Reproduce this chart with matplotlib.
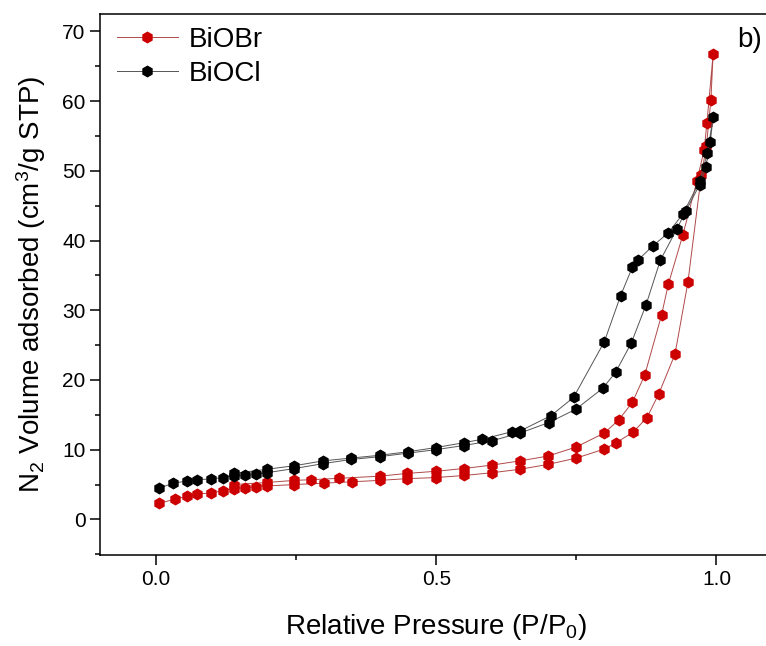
import matplotlib
matplotlib.use('Agg')
import matplotlib.pyplot as plt
from matplotlib.ticker import MultipleLocator

plt.rcParams['font.family'] = ['Liberation Sans', 'DejaVu Sans']
plt.rcParams['mathtext.default'] = 'regular'

# BiOBr: adsorption branch followed by desorption branch
biobr_p = [0.006, 0.033, 0.055, 0.074, 0.099, 0.119, 0.139, 0.159, 0.179, 0.198,
           0.247, 0.299, 0.350, 0.399, 0.448, 0.499, 0.549, 0.600, 0.650, 0.700,
           0.750, 0.800, 0.821, 0.851, 0.876, 0.897, 0.926, 0.949, 0.973, 0.982,
           0.990, 0.994,
           0.983, 0.978, 0.965, 0.940, 0.914, 0.902, 0.872, 0.850, 0.826, 0.800,
           0.750, 0.700, 0.650, 0.600, 0.549, 0.499, 0.448, 0.399, 0.327, 0.277,
           0.247, 0.198, 0.139]
biobr_v = [2.3, 2.9, 3.3, 3.65, 3.8, 4.1, 4.4, 4.55, 4.7, 4.8,
           5.0, 5.2, 5.4, 5.6, 5.85, 6.0, 6.3, 6.7, 7.2, 7.9,
           8.8, 10.1, 11.0, 12.5, 14.6, 18.0, 23.7, 34.0, 49.4, 53.5,
           60.1, 66.7,
           56.9, 53.0, 48.5, 40.8, 33.7, 29.3, 20.7, 16.8, 14.3, 12.4,
           10.4, 9.1, 8.4, 7.8, 7.3, 6.9, 6.6, 6.2, 5.9, 5.7,
           5.6, 5.3, 5.0]

# BiOCl: adsorption branch followed by desorption branch
biocl_p = [0.006, 0.031, 0.055, 0.074, 0.098, 0.119, 0.140, 0.159, 0.179, 0.198,
           0.247, 0.298, 0.348, 0.399, 0.449, 0.499, 0.549, 0.600, 0.650, 0.701,
           0.749, 0.797, 0.820, 0.848, 0.874, 0.900, 0.929, 0.945, 0.970, 0.981,
           0.989, 0.994,
           0.984, 0.970, 0.940, 0.914, 0.886, 0.860, 0.850, 0.829, 0.800, 0.745,
           0.705, 0.650, 0.636, 0.582, 0.549, 0.499, 0.449, 0.399, 0.348, 0.298,
           0.247, 0.198, 0.140]
biocl_v = [4.5, 5.2, 5.5, 5.7, 5.8, 6.0, 6.2, 6.3, 6.5, 6.7,
           7.3, 8.0, 8.6, 9.0, 9.5, 10.0, 10.6, 11.3, 12.4, 13.9,
           15.8, 18.8, 21.1, 25.3, 30.7, 37.2, 41.6, 44.2, 48.0, 50.5,
           54.2, 57.7,
           52.6, 48.5, 43.8, 41.1, 39.2, 37.2, 36.2, 32.1, 25.5, 17.5,
           14.9, 12.7, 12.6, 11.5, 11.0, 10.3, 9.7, 9.2, 8.8, 8.4,
           7.7, 7.2, 6.6]

fig = plt.figure(figsize=(7.66, 6.46), dpi=100)
ax = fig.add_axes([0.1305, 0.1409, 0.878, 0.8375])

ax.plot(biobr_p, biobr_v, color='#b04848', lw=0.7, marker='h', markersize=7.5,
        markerfacecolor='#cc0000', markeredgecolor='#cc0000', label='BiOBr')
ax.plot(biocl_p, biocl_v, color='#555555', lw=0.7, marker='h', markersize=7.5,
        markerfacecolor='black', markeredgecolor='black', label='BiOCl')

ax.set_xlim(-0.1, 1.1)
ax.set_ylim(-5.1, 72.5)
ax.xaxis.set_major_locator(MultipleLocator(0.5))
ax.xaxis.set_minor_locator(MultipleLocator(0.25))
ax.yaxis.set_major_locator(MultipleLocator(10))
ax.yaxis.set_minor_locator(MultipleLocator(5))
ax.set_xticks([0.0, 0.5, 1.0])
ax.set_xticklabels(['0.0', '0.5', '1.0'])
ax.tick_params(which='major', direction='out', length=7, width=1.1, labelsize=15)
ax.tick_params(which='minor', direction='out', length=3.5, width=1.1)
ax.tick_params(top=False, right=False)
for s in ax.spines.values():
    s.set_linewidth(1.1)

ax.set_xlabel('Relative Pressure (P/P$_0$)', fontsize=20, labelpad=17)
ax.set_ylabel('N$_2$ Volume adsorbed (cm$^3$/g STP)', fontsize=20, labelpad=10)

ax.legend(loc='upper left', bbox_to_anchor=(-0.012, 1.022), frameon=False, fontsize=20,
          numpoints=1, handlelength=2.2, handletextpad=0.4, labelspacing=0.28)
fig.text(0.962, 0.928, 'b)', fontsize=20)

fig.savefig('out.png', dpi=100)
